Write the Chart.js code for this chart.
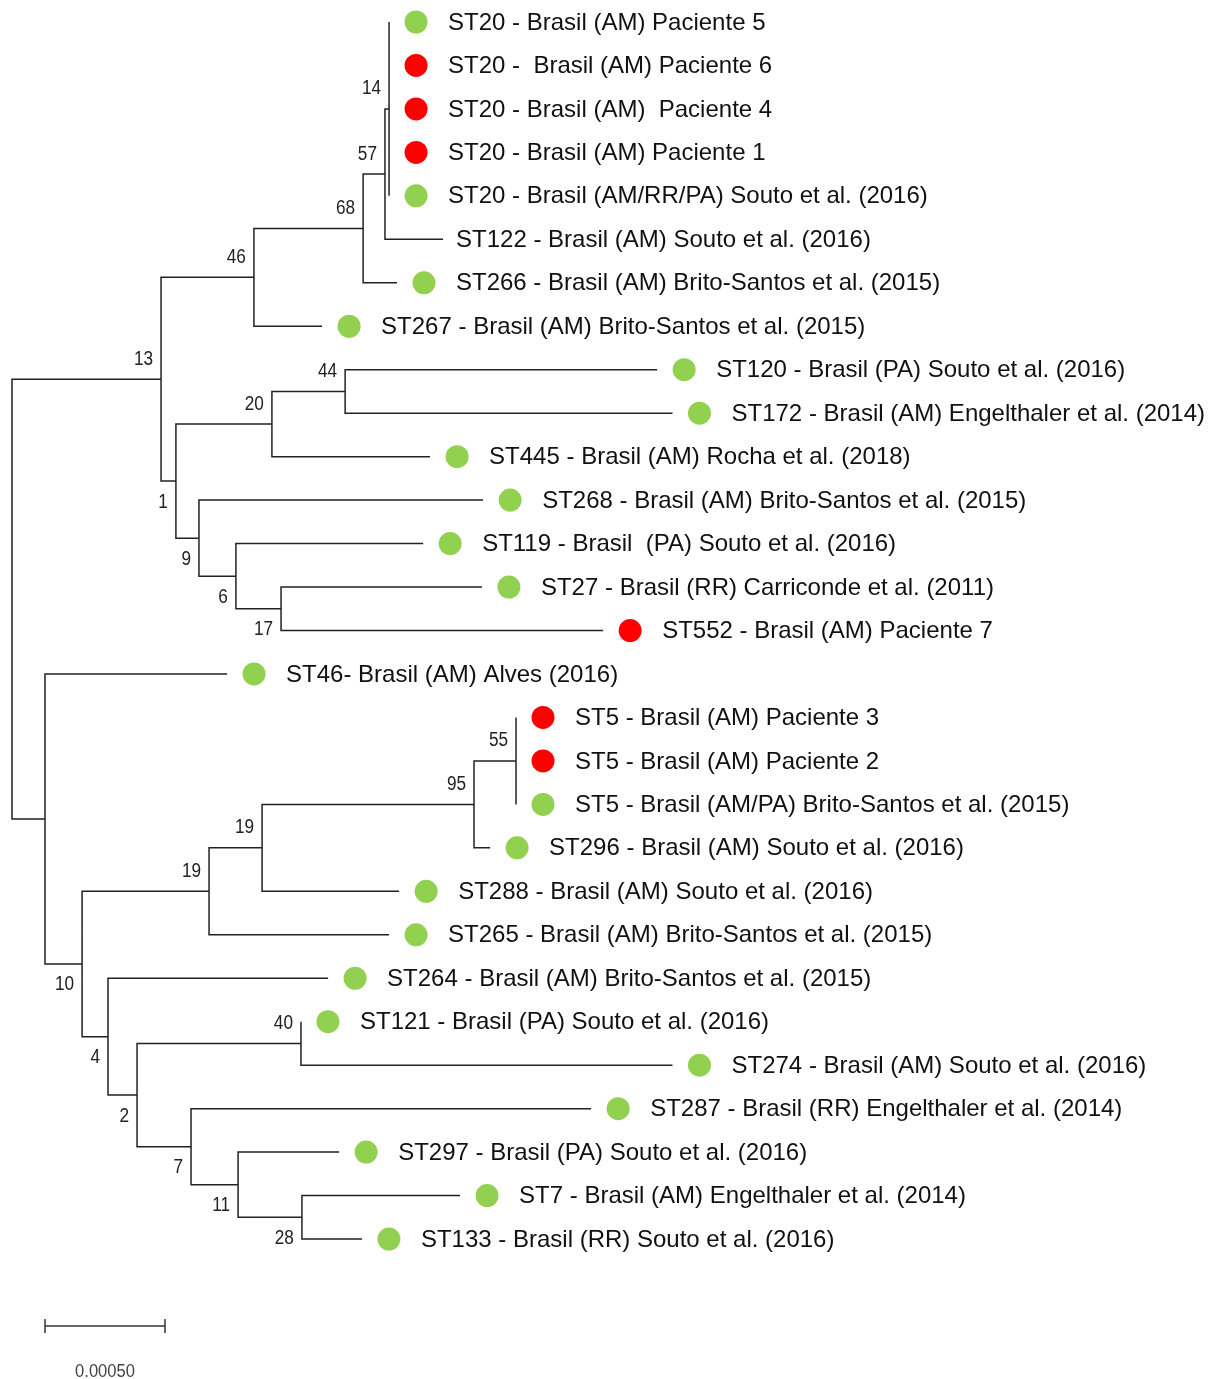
<!DOCTYPE html>
<html>
<head>
<meta charset="utf-8">
<title>Árvore filogenética - ST</title>
<script src="https://cdn.jsdelivr.net/npm/chart.js@4.4.1/dist/chart.umd.min.js"></script>
<style>
  body { margin: 0; background: #fff; }
  #wrap { width: 1219px; height: 1379px; position: relative; }
</style>
</head>
<body>
<div id="wrap"><canvas id="treeCanvas"></canvas></div>
<script>
// depths are cumulative branch lengths, in units of 0.0001 substitutions/site
const UNIT = 0.0001;

// tips, top to bottom (row = index)
const tipLabels = [
  "ST20 - Brasil (AM) Paciente 5",
  "ST20 -  Brasil (AM) Paciente 6",
  "ST20 - Brasil (AM)  Paciente 4",
  "ST20 - Brasil (AM) Paciente 1",
  "ST20 - Brasil (AM/RR/PA) Souto et al. (2016)",
  "ST122 - Brasil (AM) Souto et al. (2016)",
  "ST266 - Brasil (AM) Brito-Santos et al. (2015)",
  "ST267 - Brasil (AM) Brito-Santos et al. (2015)",
  "ST120 - Brasil (PA) Souto et al. (2016)",
  "ST172 - Brasil (AM) Engelthaler et al. (2014)",
  "ST445 - Brasil (AM) Rocha et al. (2018)",
  "ST268 - Brasil (AM) Brito-Santos et al. (2015)",
  "ST119 - Brasil  (PA) Souto et al. (2016)",
  "ST27 - Brasil (RR) Carriconde et al. (2011)",
  "ST552 - Brasil (AM) Paciente 7",
  "ST46- Brasil (AM) Alves (2016)",
  "ST5 - Brasil (AM) Paciente 3",
  "ST5 - Brasil (AM) Paciente 2",
  "ST5 - Brasil (AM/PA) Brito-Santos et al. (2015)",
  "ST296 - Brasil (AM) Souto et al. (2016)",
  "ST288 - Brasil (AM) Souto et al. (2016)",
  "ST265 - Brasil (AM) Brito-Santos et al. (2015)",
  "ST264 - Brasil (AM) Brito-Santos et al. (2015)",
  "ST121 - Brasil (PA) Souto et al. (2016)",
  "ST274 - Brasil (AM) Souto et al. (2016)",
  "ST287 - Brasil (RR) Engelthaler et al. (2014)",
  "ST297 - Brasil (PA) Souto et al. (2016)",
  "ST7 - Brasil (AM) Engelthaler et al. (2014)",
  "ST133 - Brasil (RR) Souto et al. (2016)"
];
const tipDepth = [
  15.71, 15.71, 15.71, 15.71, 15.71, 17.96, 16.04, 12.92,
  26.88, 27.52, 17.42, 19.63, 17.13, 19.58, 24.63,
  8.96, 21.0, 21.0, 21.0, 19.92, 16.13, 15.71, 13.17,
  12.04, 27.52, 24.13, 13.63, 18.67, 14.58
];
// g = literature isolate (green), r = patient isolate (red), "" = no marker
const tipGroup = [
  "g", "r", "r", "r", "g", "", "g", "g",
  "g", "g", "g", "g", "g", "g", "r",
  "g", "r", "r", "g", "g", "g", "g", "g",
  "g", "g", "g", "g", "g", "g"
];

// internal nodes; numbers in children are tip rows
const nodeIds = ["root", "n13", "n46", "n68", "n57", "n14", "n1", "n20", "n44", "n9", "n6", "n17",
                 "nB", "n10", "n19a", "n19b", "n95", "n55", "n4", "n2", "n40", "n7", "n11", "n28"];
const nodeDepth = [0, 6.21, 10.08, 14.63, 15.54, 15.71, 6.83, 10.83, 13.88, 7.79, 9.33, 11.21,
                   1.375, 2.92, 8.21, 10.42, 19.25, 21.0, 4.0, 5.21, 12.04, 7.46, 9.42, 12.08];
const nodeSupport = ["", "13", "46", "68", "57", "14", "1", "20", "44", "9", "6", "17",
                     "", "10", "19", "19", "95", "55", "4", "2", "40", "7", "11", "28"];
const nodeChildren = [
  ["n13", "nB"], ["n46", "n1"], ["n68", 7], ["n57", 6], ["n14", 5], [0, 1, 2, 3, 4],
  ["n20", "n9"], ["n44", 10], [8, 9], [11, "n6"], [12, "n17"], [13, 14],
  [15, "n10"], ["n19a", "n4"], ["n19b", 21], ["n95", 20], ["n55", 19], [16, 17, 18],
  [22, "n2"], ["n40", "n7"], [23, 24], [25, "n11"], [26, "n28"], [27, 28]
];

const scaleBarLength = 5;   // = 0.00050
const scaleBarStart = 1.375;
const scaleBarRow = 30;

const DOT_GAP = 1.125;      // marker sits ~27px right of the branch end
const groupColors = { g: "#92d050", r: "#ff0000" };

// y of a node = middle of its first and last child
let nodeY = {};
function yOf(c) {
  if (typeof c === "number") return c;
  if (nodeY[c] === undefined) {
    let kids = nodeChildren[nodeIds.indexOf(c)];
    nodeY[c] = (yOf(kids[0]) + yOf(kids[kids.length - 1])) / 2;
  }
  return nodeY[c];
}
function depthOf(c) {
  return typeof c === "number" ? tipDepth[c] : nodeDepth[nodeIds.indexOf(c)];
}

// branches as elbow paths, broken by gaps
let branchPts = [];
let firstChild = {};
nodeIds.forEach((id, i) => {
  let px = nodeDepth[i], py = yOf(id);
  nodeChildren[i].forEach((c, k) => {
    if (typeof c !== "number") firstChild[c] = (k === 0);
    branchPts.push({ x: px, y: py }, { x: px, y: yOf(c) }, { x: depthOf(c), y: yOf(c) }, { x: null, y: null });
  });
});

let dotPts = [], dotColors = [];
tipGroup.forEach((g, i) => {
  if (g) {
    dotPts.push({ x: tipDepth[i] + DOT_GAP, y: i });
    dotColors.push(groupColors[g]);
  }
});

// text: tip names, bootstrap values, scale label
const treeText = {
  id: "treeText",
  afterDatasetsDraw(chart) {
    const { ctx, scales: { x, y } } = chart;
    ctx.save();
    ctx.fillStyle = "#111";
    ctx.textBaseline = "middle";
    ctx.textAlign = "left";
    ctx.font = "24px 'Liberation Sans', Arial, sans-serif";
    tipLabels.forEach((t, i) => {
      let tx = tipGroup[i] ? x.getPixelForValue(tipDepth[i] + DOT_GAP) + 32 : x.getPixelForValue(tipDepth[i]) + 13;
      ctx.fillText(t, tx, y.getPixelForValue(i) + 1);
    });

    ctx.font = "20px 'Liberation Sans', Arial, sans-serif";
    ctx.textAlign = "right";
    ctx.fillStyle = "#222";
    nodeIds.forEach((id, i) => {
      if (!nodeSupport[i]) return;
      let nx = x.getPixelForValue(nodeDepth[i]) - 8;
      let ny = y.getPixelForValue(yOf(id)) + (firstChild[id] ? -20 : 21);
      ctx.save();
      ctx.translate(nx, ny);
      ctx.scale(0.86, 1);
      ctx.fillText(nodeSupport[i], 0, 0);
      ctx.restore();
    });

    // scale bar label
    ctx.fillStyle = "#444";
    ctx.textAlign = "center";
    ctx.font = "18px 'Liberation Sans', Arial, sans-serif";
    let cx = x.getPixelForValue(scaleBarStart + scaleBarLength / 2);
    let cy = y.getPixelForValue(scaleBarRow) + 46;
    ctx.save();
    ctx.translate(cx, cy);
    ctx.scale(0.92, 1);
    ctx.fillText((scaleBarLength * UNIT).toFixed(5), 0, 0);
    ctx.restore();
    ctx.restore();
  }
};

let ctx = document.getElementById("treeCanvas").getContext("2d");
let treeChart = new Chart(ctx, {
  type: "scatter",
  data: {
    datasets: [
      {
        // branches
        data: branchPts,
        showLine: true,
        spanGaps: false,
        borderColor: "#222",
        borderWidth: 1.5,
        borderJoinStyle: "miter",
        borderCapStyle: "butt",
        pointRadius: 0,
        pointHoverRadius: 0
      },
      {
        // tip markers
        data: dotPts,
        pointRadius: 11.5,
        pointHoverRadius: 11.5,
        pointBackgroundColor: dotColors,
        pointBorderWidth: 0
      },
      {
        // scale bar
        data: [{ x: scaleBarStart, y: scaleBarRow }, { x: scaleBarStart + scaleBarLength, y: scaleBarRow }],
        showLine: true,
        borderColor: "#333",
        borderWidth: 1.5,
        pointStyle: "line",
        pointRotation: 90,
        pointRadius: 7,
        pointBorderColor: "#333",
        pointBorderWidth: 1.5
      }
    ]
  },
  options: {
    responsive: true,
    maintainAspectRatio: false,
    animation: false,
    layout: { padding: 0, autoPadding: false },
    plugins: {
      legend: { display: false },
      tooltip: { enabled: false }
    },
    scales: {
      x: { type: "linear", display: false, min: -0.5, max: 50.29 },
      y: { type: "linear", display: false, reverse: true, min: -0.506, max: 31.22 }
    }
  },
  plugins: [treeText]
});
</script>
</body>
</html>
